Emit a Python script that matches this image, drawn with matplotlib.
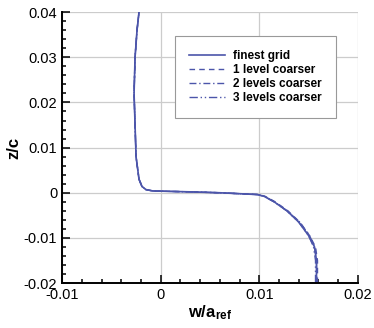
import matplotlib
matplotlib.use('Agg')
import matplotlib.pyplot as plt
from matplotlib.ticker import MultipleLocator, FuncFormatter

plt.rcParams['font.family'] = ['Liberation Sans', 'DejaVu Sans']
plt.rcParams['axes.unicode_minus'] = False
plt.rcParams['mathtext.fontset'] = 'custom'
plt.rcParams['mathtext.bf'] = 'Liberation Sans:bold'
plt.rcParams['mathtext.rm'] = 'Liberation Sans'

# velocity profile w/a_ref vs z/c
z_fine = [-0.02, -0.015, -0.012, -0.0095, -0.0065, -0.004, -0.002, -0.0008, -0.0004,
          0.0, 0.0002, 0.0003, 0.0004, 0.0007, 0.0014, 0.003, 0.008, 0.015, 0.022, 0.03, 0.036, 0.04]
w_fine = [0.0158, 0.0158, 0.0156, 0.0150, 0.0140, 0.0128, 0.0115, 0.0105, 0.0098,
          0.006, 0.003, 0.001, -0.0008, -0.0015, -0.0019, -0.0022, -0.0025, -0.0026, -0.0027, -0.0026, -0.0024, -0.0022]
w_c1 = [0.0159, 0.0159, 0.0157, 0.0151, 0.0141, 0.0129, 0.0116, 0.0106, 0.0099,
        0.006, 0.003, 0.001, -0.0008, -0.0015, -0.0019, -0.0022, -0.0025, -0.0026, -0.0027, -0.0026, -0.0024, -0.0022]
w_c2 = [0.0158, 0.0158, 0.0156, 0.0151, 0.0141, 0.0128, 0.0115, 0.0105, 0.0098,
        0.006, 0.003, 0.001, -0.0008, -0.0015, -0.0019, -0.0022, -0.0025, -0.0026, -0.0027, -0.0026, -0.0024, -0.0022]
w_c3 = [0.0157, 0.0157, 0.0155, 0.0150, 0.0140, 0.0128, 0.0115, 0.0105, 0.0098,
        0.006, 0.003, 0.001, -0.0008, -0.0015, -0.0019, -0.0022, -0.0025, -0.0026, -0.0027, -0.0026, -0.0024, -0.0022]
labels = ['finest grid', '1 level coarser', '2 levels coarser', '3 levels coarser']

fig = plt.figure(figsize=(3.74, 3.28), dpi=100)
ax = fig.add_axes([0.166, 0.137, 0.791, 0.826])

col = '#4c55aa'
ax.plot(w_fine, z_fine, color=col, lw=1.2, ls='-', label=labels[0])
ax.plot(w_c1, z_fine, color=col, lw=1.0, ls=(0, (4, 3)), label=labels[1])
ax.plot(w_c2, z_fine, color=col, lw=1.0, ls=(0, (5, 2, 1, 2)), label=labels[2])
ax.plot(w_c3, z_fine, color=col, lw=1.0, ls=(0, (6, 2, 1, 2, 1, 2)), label=labels[3])

ax.set_xlim(-0.01, 0.02)
ax.set_ylim(-0.02, 0.04)
ax.xaxis.set_major_locator(MultipleLocator(0.01))
ax.xaxis.set_minor_locator(MultipleLocator(0.002))
ax.yaxis.set_major_locator(MultipleLocator(0.01))
ax.yaxis.set_minor_locator(MultipleLocator(0.002))
fmt = FuncFormatter(lambda v, p: '0' if abs(v) < 1e-12 else '%g' % round(v, 4))
ax.xaxis.set_major_formatter(fmt)
ax.yaxis.set_major_formatter(fmt)

ax.grid(True, which='major', color='#cccccc', lw=0.9)
ax.set_axisbelow(True)
ax.spines['top'].set_visible(False)
ax.spines['right'].set_visible(False)
ax.spines['left'].set_linewidth(1.4)
ax.spines['bottom'].set_linewidth(1.4)
ax.tick_params(which='both', direction='in', labelsize=10.5, width=1.1)
ax.tick_params(which='major', length=6)
ax.tick_params(which='minor', length=3)

ax.set_xlabel(r'$\mathbf{w/a_{ref}}$', fontsize=12, labelpad=1)
ax.set_ylabel('z/c', fontsize=12, fontweight='bold', labelpad=2)

leg = ax.legend(loc='upper left', bbox_to_anchor=(0.382, 0.911), fancybox=False,
                edgecolor='#999999', framealpha=1, borderaxespad=0,
                prop={'weight': 'bold', 'size': 8.5}, handlelength=3.0,
                borderpad=1.2, labelspacing=0.15, handletextpad=0.7)
leg.get_frame().set_linewidth(0.8)

fig.savefig('out.png', dpi=100)
